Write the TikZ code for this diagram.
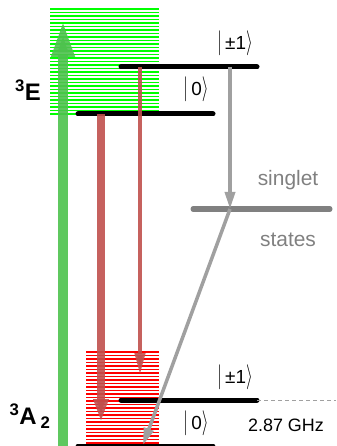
\documentclass[tikz,border=0pt]{standalone}
\usepackage{fontspec}
\setmainfont{Liberation Sans}
\usetikzlibrary{arrows.meta}
\definecolor{pumpgreen}{HTML}{4EC24E}
\definecolor{hatchgreen}{HTML}{00FF00}
\definecolor{emitred}{HTML}{C0504D}
\definecolor{hatchred}{HTML}{FF0000}
\definecolor{iscgray}{HTML}{A0A0A0}
\definecolor{singgray}{HTML}{808080}
\newcommand{\lvl}[1]{\scalebox{1}[1.45]{$\vert$}\,#1\scalebox{1}[1.45]{$\rangle$}}
\tikzset{
    level/.style={line width=5bp,line cap=round},
    hatchline/.style={line width=1.2bp},
    pump/.style={draw=pumpgreen,line width=10bp,opacity=.9,-{Triangle[length=37bp,width=21bp]}},
    emit/.style={draw=emitred,opacity=.9},
    isc/.style={draw=iscgray,line width=3.5bp,-{Triangle[length=17bp,width=10bp]}},
    ketlabel/.style={font=\fontsize{19}{23}\selectfont,inner sep=0pt},
    term/.style={font=\fontsize{24}{28}\selectfont\bfseries,inner sep=0pt},
    note/.style={text=singgray,font=\fontsize{21}{25}\selectfont,inner sep=0pt},
}
\begin{document}
\begin{tikzpicture}[x=1bp,y=-1bp]
    \useasboundingbox (0,0) rectangle (336,446);

    % vibronic bands
    \foreach \y in {9,12.5,...,115}
        \draw[hatchline,hatchgreen] (50,\y) -- (159,\y);
    \foreach \y in {352,355.5,...,446}
        \draw[hatchline,hatchred] (86,\y) -- (159,\y);

    % levels
    \coordinate (eP1) at (121,67);
    \coordinate (eP1r) at (257,67);
    \coordinate (e0) at (78,114);
    \coordinate (e0r) at (213,114);
    \coordinate (gP1) at (121,400);
    \coordinate (gP1r) at (257,400);
    \coordinate (g0) at (78,446);
    \coordinate (g0r) at (213,446);
    \coordinate (sL) at (193,209);
    \coordinate (sR) at (330,209);
    \coordinate (dashEnd) at (336,400);

    \draw[level] (eP1) -- (eP1r);
    \draw[level] (e0) -- (e0r);
    \draw[level] (gP1) -- (gP1r);
    \draw[level] (g0) -- (g0r);
    \draw[level,draw=singgray] (sL) -- (sR);
    \draw[iscgray,dash pattern=on 4bp off 3bp,line width=1bp] (gP1r) -- (dashEnd);

    % transitions
    \coordinate (pumpFrom) at (63,446);
    \coordinate (pumpTo) at (63,20);
    \coordinate (redA) at (101,114);
    \coordinate (redAto) at (101,422);
    \coordinate (redB) at (140,67);
    \coordinate (redBto) at (140,375);
    \coordinate (iscFrom) at (230,67);
    \coordinate (iscTo) at (230,209);
    \coordinate (iscEnd) at (143,445);

    \draw[pump] (pumpFrom) -- (pumpTo);
    \draw[emit,line width=8bp,-{Triangle[length=23bp,width=14bp]}] (redA) -- (redAto);
    \draw[emit,line width=4bp,-{Triangle[length=22bp,width=10bp]}] (redB) -- (redBto);
    \draw[isc] (iscFrom) -- (iscTo);
    \draw[isc] (iscTo) -- (iscEnd);

    % labels
    \node[ketlabel] (lEP1) at (235,43) {\lvl{±1}};
    \node[ketlabel] (lE0) at (196,89) {\lvl{0}};
    \node[ketlabel] (lGP1) at (235,377) {\lvl{±1}};
    \node[ketlabel] (lG0) at (196,423) {\lvl{0}};
    \node[term] (tE) at (28,90) {\textsuperscript{3}E};
    \node[term] (tA) at (30,416) {\textsuperscript{3}A\,\textsubscript{2}};
    \node[note] (lSing) at (288,180) {singlet};
    \node[note] (lStates) at (288,240) {states};
    \node[ketlabel,font=\fontsize{18}{22}\selectfont] (lGHz) at (286,425) {2.87 GHz};
\end{tikzpicture}
\end{document}
